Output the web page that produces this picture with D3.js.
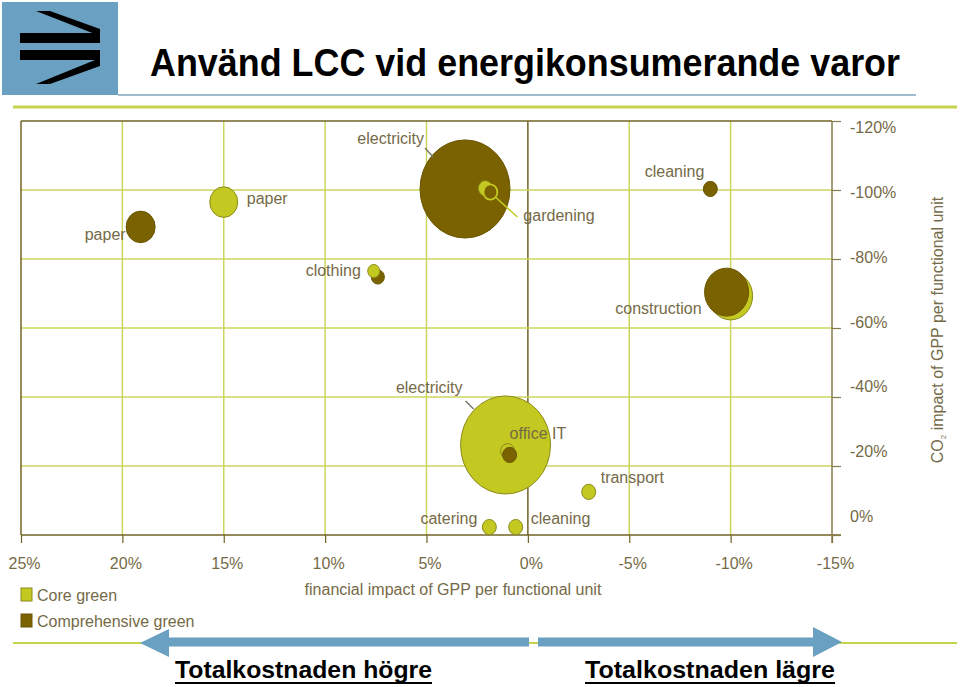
<!DOCTYPE html>
<html>
<head>
<meta charset="utf-8">
<script src="https://cdn.jsdelivr.net/npm/d3@7"></script>
<style>
body { margin: 0; background: #fff; }
svg { display: block; font-family: "Liberation Sans", Arial, sans-serif; }
</style>
</head>
<body>
<div class="slide"></div>
<script>
// width / height of the slide
const w = 960;
const h = 687;

// axis ticks (percent)
const xTicks = [25, 20, 15, 10, 5, 0, -5, -10, -15];
const yTicks = [0, -20, -40, -60, -80, -100, -120];

// Core green bubbles
const coreItems = ["paper", "electricity", "gardening", "clothing", "construction", "office IT", "transport", "catering", "cleaning"];
const coreX     = [15.0, 1.1, 2.1, 7.6, -10.0, 1.0, -3.0, 1.9, 0.6];
const coreY     = [-96.5, -26.1, -100.5, -76.5, -69.3, -24.3, -12.5, -2.3, -2.3];
const coreSize  = [9.7, 100, 2.4, 1.8, 23.9, 2.4, 2.4, 2.4, 2.4];

// Comprehensive green bubbles
const compItems = ["paper", "electricity", "gardening", "clothing", "cleaning", "construction", "office IT"];
const compX     = [19.1, 3.1, 1.85, 7.4, -9.0, -9.8, 0.9];
const compY     = [-89.3, -100.3, -99.4, -74.8, -100.3, -70.4, -23.2];
const compSize  = [10.4, 100, 2.4, 2.1, 2.4, 23.9, 2.4];

const legendNames = ["Core green", "Comprehensive green"];

// colours
const coreFill = "#c3c921", coreStroke = "#8b8a1c";
const compFill = "#7a6200", compStroke = "#6a5500";
const gridCol = "#cdd65c", darkCol = "#6f6424", textCol = "#756a47";
const blue = "#6aa0c2";

const svg = d3.select(".slide").append("svg")
    .attr("width", w)
    .attr("height", h);

// ---- header ----
svg.append("rect").attr("x", 2).attr("y", 2).attr("width", 116).attr("height", 93).attr("fill", blue);
const logo = svg.append("g").attr("fill", "#000");
logo.append("rect").attr("x", 20).attr("y", 33).attr("width", 80).attr("height", 10);
logo.append("rect").attr("x", 20).attr("y", 50).attr("width", 80).attr("height", 10);
logo.append("path").attr("d", "M36,11 L50,11 L100,29 L100,36 Z");
logo.append("path").attr("d", "M36,84 L50,84 L100,66 L100,58 Z");

svg.append("line").attr("x1", 118).attr("x2", 916).attr("y1", 95).attr("y2", 95)
    .attr("stroke", "#80a7c1").attr("stroke-width", 1.5);
svg.append("line").attr("x1", 13).attr("x2", 957).attr("y1", 107).attr("y2", 107)
    .attr("stroke", "#c6d44c").attr("stroke-width", 3);

svg.append("text")
    .attr("x", 150).attr("y", 76)
    .attr("font-size", 38).attr("font-weight", "bold")
    .attr("textLength", 750).attr("lengthAdjust", "spacingAndGlyphs")
    .text("Använd LCC vid energikonsumerande varor");

// ---- scales ----
const xScale = d3.scaleLinear().domain([25, -15]).range([21, 832]);
const yScale = d3.scaleLinear().domain([0, -120]).range([535, 121]);
// tick labels on the right sit on their own (slightly tighter) spacing
const yLabelScale = d3.scaleLinear().domain([0, -120]).range([522, 133]);
const rScale = d3.scaleSqrt().domain([0, 100]).range([0, 45]);

// ---- grid ----
const grid = svg.append("g");
grid.selectAll(".vg")
    .data(xTicks.filter(d => d !== 25 && d !== -15))
    .enter().append("line")
    .attr("x1", d => xScale(d)).attr("x2", d => xScale(d))
    .attr("y1", yScale(-120)).attr("y2", yScale(0))
    .attr("stroke", d => d === 0 ? darkCol : gridCol)
    .attr("stroke-width", 1.5);
grid.selectAll(".hg")
    .data(yTicks.filter(d => d !== 0 && d !== -120))
    .enter().append("line")
    .attr("x1", xScale(25)).attr("x2", xScale(-15))
    .attr("y1", d => yScale(d)).attr("y2", d => yScale(d))
    .attr("stroke", gridCol)
    .attr("stroke-width", 1.5);
// frame: left and top
grid.append("line").attr("x1", xScale(25)).attr("x2", xScale(25))
    .attr("y1", yScale(-120)).attr("y2", yScale(0)).attr("stroke", darkCol).attr("stroke-width", 1.5);
grid.append("line").attr("x1", xScale(25)).attr("x2", xScale(-15))
    .attr("y1", yScale(-120)).attr("y2", yScale(-120)).attr("stroke", darkCol).attr("stroke-width", 1.5);

// ---- axes ----
const xAxis = d3.axisBottom(xScale)
    .tickValues(xTicks)
    .tickSize(8)
    .tickSizeOuter(0)
    .tickFormat(d => d + "%");
const gx = svg.append("g")
    .attr("transform", "translate(0," + yScale(0) + ")")
    .call(xAxis);
gx.select(".domain").remove();
gx.selectAll(".tick line").attr("stroke", darkCol).attr("stroke-width", 1.2);
gx.selectAll(".tick text")
    .attr("fill", textCol).attr("font-size", 16)
    .attr("font-family", "Liberation Sans, Arial, sans-serif")
    .attr("dx", 3).attr("y", 23);
gx.append("line").attr("x1", xScale(25)).attr("x2", xScale(-15) + 9)
    .attr("stroke", darkCol).attr("stroke-width", 1.5);

const yAxis = d3.axisRight(yScale)
    .tickValues(yTicks)
    .tickSize(9)
    .tickSizeOuter(0)
    .tickFormat("");
const gy = svg.append("g")
    .attr("transform", "translate(" + xScale(-15) + ",0)")
    .call(yAxis);
gy.select(".domain").remove();
gy.selectAll(".tick line").attr("stroke", "#857b4c").attr("stroke-width", 1.2);
gy.append("line").attr("y1", yScale(-120)).attr("y2", yScale(0) + 8)
    .attr("stroke", "#857b4c").attr("stroke-width", 1.5);

svg.append("g").selectAll("text")
    .data(yTicks)
    .enter().append("text")
    .attr("x", 850)
    .attr("y", d => yLabelScale(d))
    .attr("fill", textCol).attr("font-size", 16)
    .text(d => d + "%");

// axis titles
svg.append("text")
    .attr("x", 453).attr("y", 595)
    .attr("text-anchor", "middle")
    .attr("fill", textCol).attr("font-size", 16)
    .text("financial impact of GPP per functional unit");

const yTitle = svg.append("text")
    .attr("transform", "translate(943,330) rotate(-90)")
    .attr("text-anchor", "middle")
    .attr("fill", textCol).attr("font-size", 16);
yTitle.append("tspan").text("CO");
yTitle.append("tspan").attr("font-size", 8).attr("dy", 3).text("2");
yTitle.append("tspan").attr("dy", -3).text(" impact of GPP per functional unit");

// ---- bubbles ----
let bubbles = [];
coreItems.forEach((d, i) => bubbles.push({group: "core", item: d, x: coreX[i], y: coreY[i], size: coreSize[i]}));
compItems.forEach((d, i) => bubbles.push({group: "comp", item: d, x: compX[i], y: compY[i], size: compSize[i]}));
bubbles.sort((a, b) => (b.size - a.size) || (a.group === "core" ? -1 : 1));

// a small dark bubble sitting inside a big dark one gets a light ring
function insideBigComp(d) {
    return bubbles.some(o => o.group === "comp" && o !== d && o.size > d.size &&
        Math.hypot(xScale(o.x) - xScale(d.x), yScale(o.y) - yScale(d.y)) < rScale(o.size));
}

svg.append("g").selectAll("ellipse")
    .data(bubbles)
    .enter().append("ellipse")
    .attr("cx", d => xScale(d.x))
    .attr("cy", d => yScale(d.y))
    .attr("rx", d => rScale(d.size))
    .attr("ry", d => rScale(d.size) * 1.09)
    .attr("fill", d => d.group === "core" ? coreFill : compFill)
    .attr("stroke", d => d.group === "core" ? coreStroke : (insideBigComp(d) ? coreFill : compStroke))
    .attr("stroke-width", d => d.group === "comp" && insideBigComp(d) ? 1.8 : 1);

// ---- labels ----
const labelLayout = [
    {group: "comp", item: "paper", dx: -15, dy: 13, anchor: "end"},
    {group: "core", item: "paper", dx: 23, dy: 2, anchor: "start"},
    {group: "comp", item: "electricity", dx: -41, dy: -45, anchor: "end", lead: [-40, -41, -32, -32], leadCol: "#7a7a6a"},
    {group: "comp", item: "gardening", dx: 33, dy: 29, anchor: "start", lead: [5, 5, 27, 25], leadCol: coreFill},
    {group: "core", item: "clothing", dx: -13, dy: 5, anchor: "end"},
    {group: "comp", item: "cleaning", dx: -6, dy: -12, anchor: "end"},
    {group: "comp", item: "construction", dx: -25, dy: 22, anchor: "end"},
    {group: "core", item: "electricity", dx: -43, dy: -52, anchor: "end", lead: [-40, -44, -32, -36], leadCol: "#7a7a6a"},
    {group: "core", item: "office IT", dx: 2, dy: -12, anchor: "start"},
    {group: "core", item: "transport", dx: 12, dy: -9, anchor: "start"},
    {group: "core", item: "catering", dx: -12, dy: -3, anchor: "end"},
    {group: "core", item: "cleaning", dx: 15, dy: -3, anchor: "start"}
];
const findBubble = l => bubbles.find(b => b.group === l.group && b.item === l.item);

const labels = svg.append("g");
labelLayout.filter(l => l.lead).forEach(l => {
    const b = findBubble(l);
    const cx = xScale(b.x), cy = yScale(b.y);
    labels.append("line")
        .attr("x1", cx + l.lead[0]).attr("y1", cy + l.lead[1])
        .attr("x2", cx + l.lead[2]).attr("y2", cy + l.lead[3])
        .attr("stroke", l.leadCol).attr("stroke-width", 1.5);
});
labels.selectAll("text")
    .data(labelLayout)
    .enter().append("text")
    .attr("x", l => xScale(findBubble(l).x) + l.dx)
    .attr("y", l => yScale(findBubble(l).y) + l.dy)
    .attr("text-anchor", l => l.anchor)
    .attr("fill", textCol).attr("font-size", 16)
    .text(l => l.item);

// ---- legend ----
const legend = svg.append("g").selectAll("g")
    .data(legendNames)
    .enter().append("g")
    .attr("transform", (d, i) => "translate(21," + (588 + i * 26) + ")");
legend.append("rect")
    .attr("width", 11).attr("height", 13)
    .attr("fill", (d, i) => i === 0 ? coreFill : compFill)
    .attr("stroke", (d, i) => i === 0 ? coreStroke : compStroke);
legend.append("text")
    .attr("x", 16).attr("y", 13)
    .attr("fill", textCol).attr("font-size", 16)
    .text(d => d);

// ---- bottom arrows ----
svg.append("line").attr("x1", 13).attr("x2", 957).attr("y1", 643).attr("y2", 643)
    .attr("stroke", "#c6d44c").attr("stroke-width", 2);
svg.append("path").attr("fill", blue)
    .attr("d", "M140,643 L169,629 L169,637.5 L529,637.5 L529,646.5 L169,646.5 L169,657 Z");
svg.append("path").attr("fill", blue)
    .attr("d", "M842,642 L813,627 L813,637.5 L538,637.5 L538,646.5 L813,646.5 L813,657 Z");

const bottomTexts = [["Totalkostnaden högre", 175, 257], ["Totalkostnaden lägre", 585, 250]];
bottomTexts.forEach(t => {
    svg.append("text")
        .attr("x", t[1]).attr("y", 678)
        .attr("font-size", 24).attr("font-weight", "bold")
        .attr("textLength", t[2]).attr("lengthAdjust", "spacingAndGlyphs")
        .text(t[0]);
    svg.append("rect")
        .attr("x", t[1]).attr("y", 682).attr("width", t[2]).attr("height", 2)
        .attr("fill", "#000");
});
</script>
</body>
</html>
